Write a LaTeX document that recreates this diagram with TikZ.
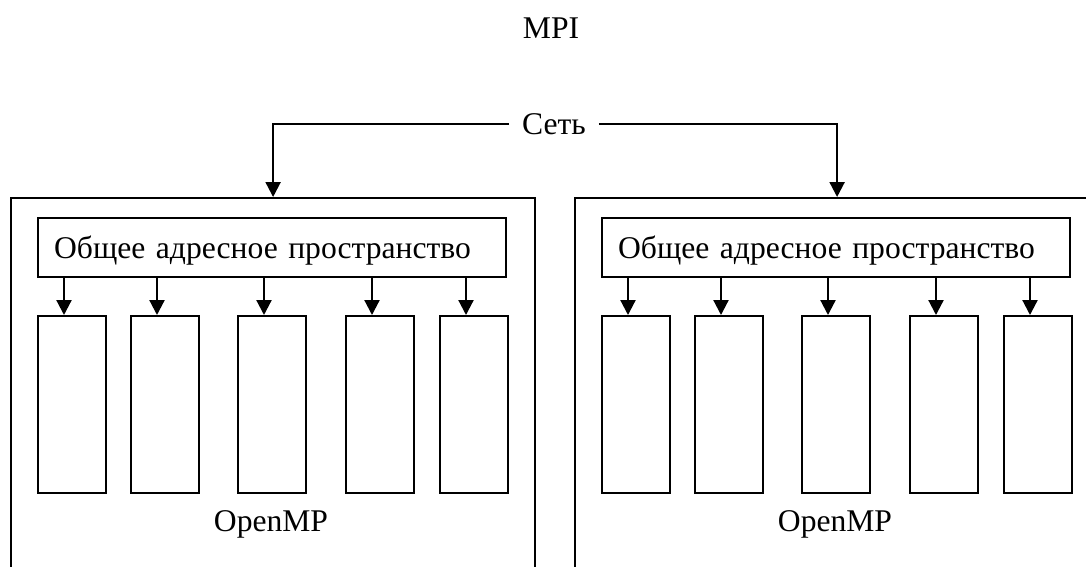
\documentclass[tikz,border=0pt]{standalone}
\usepackage{fontspec}
\setmainfont{Liberation Serif}
\usetikzlibrary{arrows.meta,calc}
\begin{document}
\begin{tikzpicture}[x=1pt,y=-1pt,line width=2.2pt,
  lbl/.style={font=\fontsize{31.6}{38}\selectfont,inner sep=0pt,text height=21pt,text depth=0pt},
  nodebox/.style={draw,anchor=north west,minimum width=524pt,minimum height=420pt,inner sep=0pt},
  addrbox/.style={draw,anchor=north west,font=\fontsize{31.6}{38}\selectfont,
    text width=436pt,align=left,inner xsep=16pt,inner ysep=0pt,
    minimum height=59pt,text height=21pt,text depth=0pt},
  cpubox/.style={draw,anchor=north west,minimum width=68pt,minimum height=177pt,inner sep=0pt},
  arr/.style={-{Triangle[length=15pt,width=15pt]}}]
\useasboundingbox (0,0) rectangle (1086,566);
\clip (0,0) rectangle (1086,566);

% title
\node[lbl] (mpi) at (551,28) {MPI};

% two cluster nodes, open at the bottom
\node[nodebox] (outerL) at (10,197) {};
\node[nodebox] (outerR) at (574,197) {};

% network link
\node[lbl,inner xsep=12pt] (net) at (554,124) {Сеть};
\draw[arr] (net.west) -| (outerL.north);
\draw[arr] (net.east) -| (outerR.north);

% contents of each node
\foreach \p/\dx/\o in {L/0/outerL,R/564/outerR}{
  \node[addrbox] (addr\p) at (37+\dx,217) {Общее адресное пространство};
  \foreach \i/\x in {1/37,2/130,3/237,4/345,5/439}{
    \node[cpubox] (cpu\p\i) at (\x+\dx,315) {};
    \coordinate (tip\p\i) at ($(cpu\p\i.north west)+(27,0)$);
    \draw[arr] (tip\p\i |- addr\p.south) -- (tip\p\i);
  }
  \node[lbl] (omp\p) at (271+\dx,521) {OpenMP};
}
\end{tikzpicture}
\end{document}
